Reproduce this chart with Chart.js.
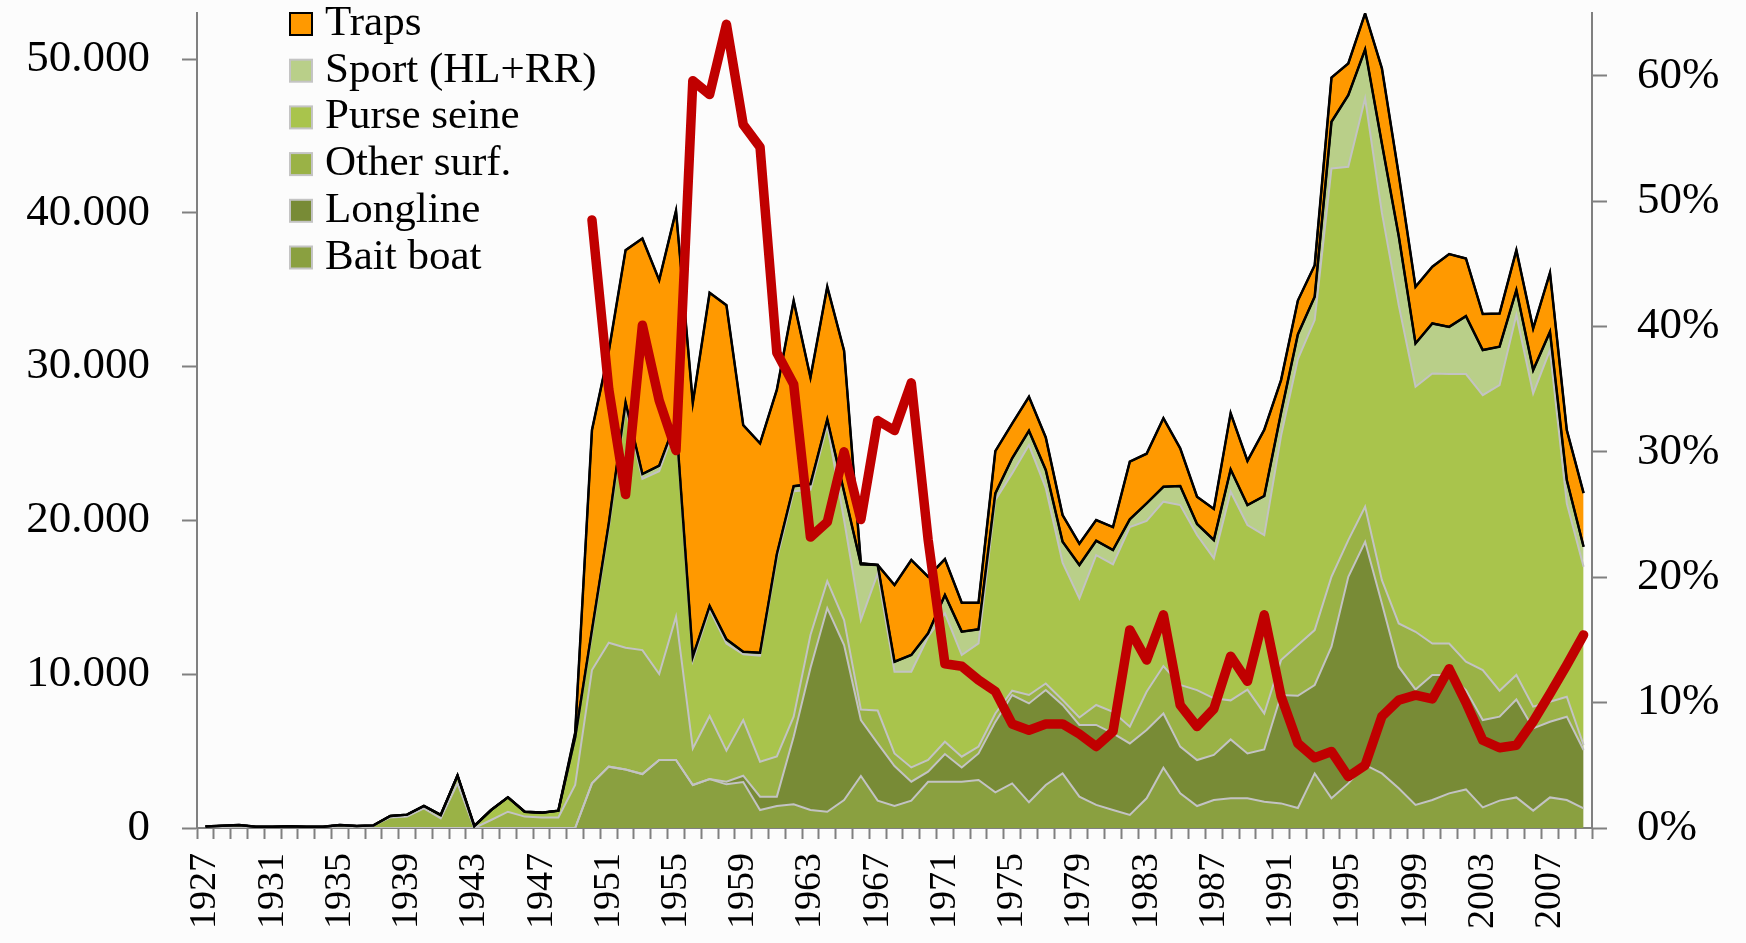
<!DOCTYPE html>
<html>
<head>
<meta charset="utf-8">
<script src="https://cdn.jsdelivr.net/npm/chart.js@4"></script>
<style>
  html, body { margin: 0; padding: 0; background: #fcfcfc; }
  #wrap { width: 1746px; height: 943px; }
</style>
</head>
<body>
<div id="wrap"><canvas id="catch-chart" width="1746" height="943"></canvas></div>
<script>
const years = [
  1927, 1928, 1929,
  1930, 1931, 1932, 1933, 1934, 1935, 1936, 1937, 1938, 1939,
  1940, 1941, 1942, 1943, 1944, 1945, 1946, 1947, 1948, 1949,
  1950, 1951, 1952, 1953, 1954, 1955, 1956, 1957, 1958, 1959,
  1960, 1961, 1962, 1963, 1964, 1965, 1966, 1967, 1968, 1969,
  1970, 1971, 1972, 1973, 1974, 1975, 1976, 1977, 1978, 1979,
  1980, 1981, 1982, 1983, 1984, 1985, 1986, 1987, 1988, 1989,
  1990, 1991, 1992, 1993, 1994, 1995, 1996, 1997, 1998, 1999,
  2000, 2001, 2002, 2003, 2004, 2005, 2006, 2007, 2008, 2009,
];

// catches in tonnes, one value per year
const baitBoat = [
  0, 0, 0,
  0, 0, 0, 0, 0, 0, 0, 0, 0, 0,
  0, 0, 0, 0, 0, 0, 0, 0, 0, 0,
  2900, 3990, 3810, 3510, 4420, 4420, 2800, 3190, 2840, 2990,
  1170, 1430, 1540, 1170, 1060, 1820, 3380, 1780, 1430, 1780,
  3010, 3010, 3010, 3120, 2320, 2900, 1670, 2800, 3550, 2040,
  1500, 1170, 850, 1930, 3920, 2250, 1430, 1820, 1930, 1930,
  1710, 1600, 1300, 3550, 1930, 2900, 4100, 3550, 2580, 1500,
  1820, 2250, 2510, 1340, 1780, 1990, 1130, 1990, 1820, 1280,
];
const longline = [
  0, 0, 0,
  0, 0, 0, 0, 0, 0, 0, 0, 0, 0,
  0, 0, 0, 0, 0, 0, 0, 0, 0, 0,
  0, 0, 0, 0, 0, 0, 0, 0, 170, 410,
  870, 610, 4400, 9230, 13240, 10080, 3640, 3720, 2600, 1230,
  650, 1800, 930, 1730, 4580, 5750, 6430, 6170, 4450, 4660,
  5200, 4980, 4650, 4440, 3530, 3040, 2990, 2930, 3830, 2920,
  3400, 7050, 7300, 5750, 9860, 13440, 14510, 11050, 7910, 7510,
  8130, 7700, 6460, 5680, 5460, 6370, 5350, 4920, 5420, 3790,
];
const otherSurf = [
  100, 150, 200,
  80, 80, 120, 80, 80, 190, 130, 170, 690, 740,
  1280, 630, 2900, 0, 520, 1060, 740, 690, 690, 2800,
  7370, 8060, 7910, 8060, 5590, 9320, 2380, 4090, 2020, 3620,
  2270, 2620, 1300, 2150, 1750, 1620, 680, 2140, 820, 930,
  760, 800, 700, 450, 550, 280, 550, 430, 320, 490,
  1300, 1410, 1090, 2490, 3080, 4010, 4550, 3680, 2540, 4150,
  2340, 2270, 3300, 3570, 4550, 2380, 2280, 1520, 2810, 3750,
  2050, 2050, 1840, 3250, 1690, 1590, 1410, 1300, 1300, 330,
];
const purseSeine = [
  0, 0, 0,
  0, 0, 0, 0, 0, 0, 0, 0, 90, 130,
  150, 220, 520, 130, 650, 940, 320, 310, 440, 3100,
  2330, 7450, 15580, 11130, 13190, 12460, 5720, 6920, 6970, 4280,
  6890, 12840, 14660, 9450, 10150, 6510, 5820, 8920, 5310, 6220,
  8020, 8350, 6610, 6710, 13880, 14130, 16250, 12700, 8940, 7740,
  9750, 9590, 12980, 11110, 10690, 11700, 10080, 9100, 13570, 10700,
  11600, 14580, 18600, 20160, 26550, 24280, 26550, 23880, 20700, 15930,
  17560, 17520, 18710, 17880, 19870, 23410, 20370, 22870, 12570, 11590,
];
const sport = [
  0, 0, 0,
  0, 0, 0, 0, 0, 0, 0, 0, 0, 0,
  0, 0, 0, 0, 0, 0, 0, 0, 0, 0,
  270, 300, 360, 320, 360, 300, 240, 230, 270, 160,
  200, 300, 330, 370, 370, 1840, 3630, 540, 650, 1090,
  220, 1190, 1520, 910, 430, 980, 930, 1180, 1360, 2170,
  930, 930, 500, 1140, 970, 1240, 720, 1200, 1450, 1300,
  2540, 1500, 1600, 1520, 3040, 4660, 3190, 4500, 4500, 2820,
  3250, 3070, 3770, 2930, 2500, 1620, 1520, 1190, 1520, 1300,
];
const traps = [
  0, 0, 0,
  0, 0, 0, 0, 0, 0, 0, 0, 0, 0,
  0, 0, 0, 0, 0, 0, 0, 0, 0, 300,
  13010, 11200, 9920, 15320, 12070, 13640, 16520, 20380, 21730, 14740,
  13610, 10700, 12060, 6930, 8630, 9170, 60, 0, 4990, 6180,
  3680, 2340, 1880, 1730, 2750, 2260, 2210, 2120, 1730, 1390,
  1350, 1490, 3750, 3230, 4460, 2450, 1770, 2020, 3660, 2870,
  4310, 2130, 2200, 2050, 2870, 2060, 2340, 4900, 4000, 3690,
  3690, 4730, 3750, 2340, 2160, 2600, 2710, 3840, 3250, 3490,
];

// share in percent, right axis
const sharePct = [
  null, null, null,
  null, null, null, null, null, null, null, null, null, null,
  null, null, null, null, null, null, null, null, null, null,
  48.5, 35, 26.6, 40.1, 34.1, 30.1, 59.6, 58.5, 64.1, 56.1,
  54.3, 37.9, 35.4, 23.2, 24.4, 30.0, 24.6, 32.5, 31.7, 35.5,
  23, 13.1, 12.9, 11.8, 10.9, 8.3, 7.8, 8.3, 8.3, 7.5,
  6.5, 7.7, 15.8, 13.4, 17.0, 9.8, 8.1, 9.5, 13.7, 11.7,
  17.0, 10.5, 6.75, 5.6, 6.1, 4.1, 5.0, 8.9, 10.2, 10.6,
  10.3, 12.7, 10.0, 7.0, 6.4, 6.6, 8.5, 10.7, 13.0, 15.4,
];

const leftTicks = [0, 10000, 20000, 30000, 40000, 50000];
const rightTicks = [0, 10, 20, 30, 40, 50, 60];

const FONT = "'Liberation Serif', 'Times New Roman', serif";
Chart.defaults.font.family = FONT;
Chart.defaults.color = "#000";

const gridGray = "#808080";
const lineGray = "#c3c3c3";

// black outlines on top: sum of all gears and sum without traps
const topNoTraps = years.map((_, i) => baitBoat[i] + longline[i] + otherSurf[i] + purseSeine[i] + sport[i]);
const topAll = years.map((_, i) => topNoTraps[i] + traps[i]);

function area(label, data, color, border, fill) {
  return {
    label: label,
    data: data,
    backgroundColor: color,
    borderColor: border,
    borderWidth: 2,
    pointRadius: 0,
    tension: 0,
    fill: fill,
    yAxisID: "y",
  };
}

function outline(data, stackName) {
  return {
    label: "",
    data: data,
    borderColor: "#000",
    borderWidth: 2.5,
    pointRadius: 0,
    fill: false,
    stack: stackName,
    order: -0.5,
    yAxisID: "y",
  };
}

// drop the extra room Chart.js keeps for half labels, so the plot box is fixed
function fixBox(size) {
  return (s) => {
    if (size.width) s.width = size.width;
    if (size.height) s.height = size.height;
    s.paddingTop = 0;
    s.paddingBottom = 0;
    s.paddingLeft = 0;
    s.paddingRight = 0;
  };
}

const cornerLegend = {
  id: "cornerLegend",
  afterDraw(chart) {
    const ctx = chart.ctx;
    const items = chart.data.datasets.filter((d) => d.inLegend).reverse();
    ctx.save();
    ctx.font = "43px " + FONT;
    ctx.textBaseline = "alphabetic";
    items.forEach((d, i) => {
      const base = 35 + i * 46.7;
      ctx.fillStyle = d.backgroundColor;
      ctx.fillRect(290, base - 22, 22, 22);
      ctx.lineWidth = 2;
      ctx.strokeStyle = d.label === "Traps" ? "#000" : "#c4c4c4";
      ctx.strokeRect(290, base - 22, 22, 22);
      ctx.fillStyle = "#000";
      ctx.fillText(d.label, 325, base);
    });
    ctx.restore();
  },
};

const datasets = [
  area("Bait boat", baitBoat, "#8aa040", lineGray, "origin"),
  area("Longline", longline, "#788b36", lineGray, "-1"),
  area("Other surf.", otherSurf, "#9ab246", lineGray, "-1"),
  area("Purse seine", purseSeine, "#a9c44c", lineGray, "-1"),
  area("Sport (HL+RR)", sport, "#b9cf89", "#000", "-1"),
  area("Traps", traps, "#ff9900", "#000", "-1"),
];
datasets.forEach((d) => (d.inLegend = true));
datasets.push(outline(topNoTraps, "edge1"));
datasets.push(outline(topAll, "edge2"));
datasets.push({
  label: "share",
  data: sharePct,
  borderColor: "#c00000",
  borderWidth: 9.5,
  borderJoinStyle: "round",
  borderCapStyle: "round",
  pointRadius: 0,
  fill: false,
  order: -1,
  yAxisID: "y1",
});

new Chart(document.getElementById("catch-chart"), {
  type: "line",
  data: { labels: years, datasets: datasets },
  plugins: [cornerLegend],
  options: {
    responsive: false,
    animation: false,
    layout: { padding: { top: 13, left: 0, right: 0, bottom: 0 } },
    plugins: {
      legend: { display: false },
      tooltip: { enabled: false },
      filler: { drawTime: "beforeDatasetsDraw" },
    },
    scales: {
      x: {
        type: "category",
        offset: true,
        grid: {
          offset: true,
          drawOnChartArea: false,
          tickLength: 11,
          tickColor: gridGray,
          tickWidth: 2,
        },
        border: { color: gridGray, width: 2 },
        ticks: {
          autoSkip: false,
          minRotation: 90,
          maxRotation: 90,
          padding: 14,
          font: { size: 38 },
          callback: function (value, index) {
            return index % 4 === 0 ? String(years[index]) : "";
          },
        },
        afterFit: fixBox({ height: 115 }),
      },
      y: {
        position: "left",
        stacked: true,
        min: 0,
        max: 53000,
        grid: { drawOnChartArea: false, tickLength: 15, tickColor: gridGray, tickWidth: 2 },
        border: { color: gridGray, width: 2 },
        afterBuildTicks: (s) => { s.ticks = leftTicks.map((v) => ({ value: v })); },
        ticks: {
          padding: 32,
          font: { size: 45 },
          callback: (v) => (v === 0 ? "0" : v / 1000 + ".000"),
        },
        afterFit: fixBox({ width: 197 }),
      },
      y1: {
        position: "right",
        min: 0,
        max: 65,
        grid: { drawOnChartArea: false, tickLength: 15, tickColor: gridGray, tickWidth: 2 },
        border: { color: gridGray, width: 2 },
        afterBuildTicks: (s) => { s.ticks = rightTicks.map((v) => ({ value: v })); },
        ticks: {
          padding: 30,
          font: { size: 45 },
          callback: (v) => v + "%",
        },
        afterFit: fixBox({ width: 154 }),
      },
    },
  },
});
</script>
</body>
</html>
